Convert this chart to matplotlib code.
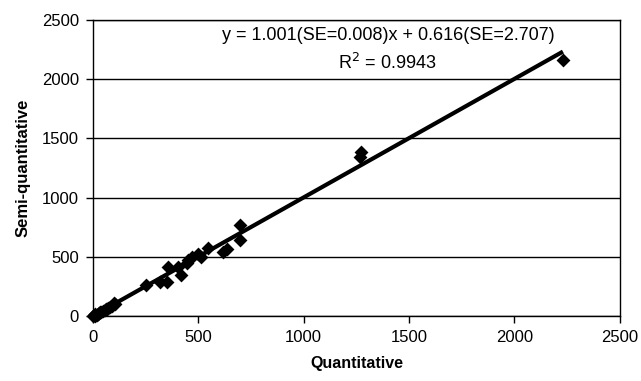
import matplotlib
matplotlib.use("Agg")
import matplotlib.pyplot as plt
import numpy as np

plt.rcParams['font.family'] = ['Liberation Sans', 'DejaVu Sans']

quantitative = [0, 4, 8, 12, 18, 22, 28, 35, 40, 48, 55, 60, 65, 72, 80, 90, 100, 105,
                254, 318, 350, 357, 405, 420, 444, 451, 468, 500, 515, 546, 617, 634,
                697, 700, 1265, 1270, 2230]
semi_quantitative = [0, 6, 4, 14, 12, 20, 24, 32, 38, 45, 50, 62, 58, 70, 78, 88, 112, 100,
                     262, 290, 290, 416, 416, 346, 447, 473, 501, 520, 501, 574, 541, 566,
                     642, 769, 1345, 1385, 2162]
slope = 1.001
intercept = 0.616
x_ticks = [0, 500, 1000, 1500, 2000, 2500]
y_ticks = [0, 500, 1000, 1500, 2000, 2500]

fig = plt.figure(figsize=(6.41, 3.81), dpi=100)
ax = fig.add_axes([0.145, 0.1706, 0.822, 0.777])

ax.set_xlim(0, 2500)
ax.set_ylim(0, 2500)
ax.set_xticks(x_ticks)
ax.set_yticks(y_ticks)
ax.yaxis.grid(True, color='black', linewidth=1.0)
ax.set_axisbelow(True)

ax.scatter(quantitative, semi_quantitative, marker='D', s=50, color='black',
           zorder=3, clip_on=False, linewidths=0)
xl = np.array([0, 2230])
ax.plot(xl, slope * xl + intercept, color='black', linewidth=3, zorder=4,
        solid_capstyle='butt', clip_on=False)

ax.text(1400, 2365, 'y = 1.001(SE=0.008)x + 0.616(SE=2.707)', ha='center', va='center',
        fontsize=13)
ax.text(1395, 2140, r'R$^2$ = 0.9943', ha='center', va='center', fontsize=13)

for s in ax.spines.values():
    s.set_color('black')
    s.set_linewidth(1.0)

ax.tick_params(axis='both', direction='out', length=5, width=1, labelsize=12,
               colors='black', pad=5)
ax.set_xlabel('Quantitative', fontsize=11.5, fontweight='bold', labelpad=8)
ax.set_ylabel('Semi-quantitative', fontsize=12, fontweight='bold', labelpad=8)

fig.savefig('out.png', dpi=100)
